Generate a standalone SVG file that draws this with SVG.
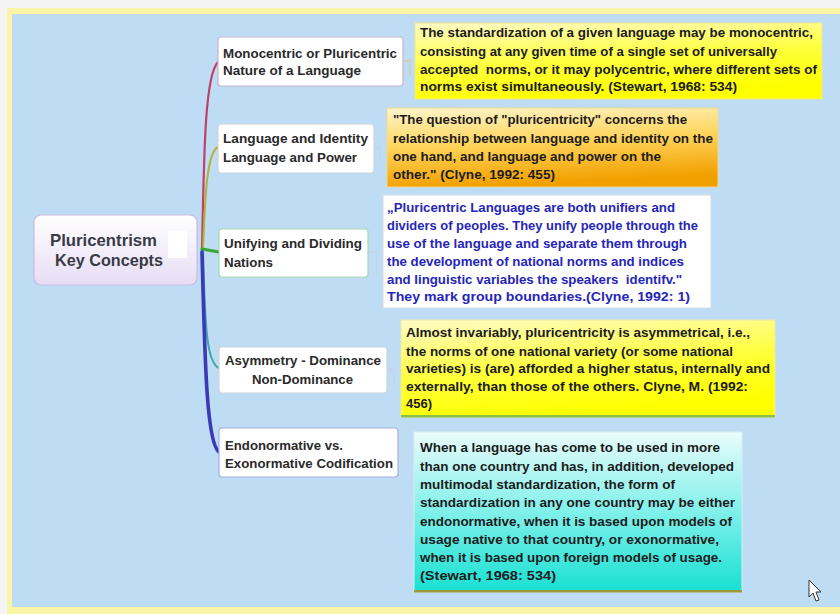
<svg xmlns="http://www.w3.org/2000/svg" width="840" height="614" viewBox="0 0 840 614">
<defs>
<linearGradient id="gCentral" x1="0" y1="0" x2="0" y2="1"><stop offset="0" stop-color="#ffffff"/><stop offset="1" stop-color="#e6dcf4"/></linearGradient>
<linearGradient id="gYellow" x1="0" y1="0" x2="0.3" y2="1"><stop offset="0" stop-color="#fffbc8"/><stop offset="0.55" stop-color="#ffff40"/><stop offset="1" stop-color="#ffff00"/></linearGradient>
<linearGradient id="gOrange" x1="0" y1="0" x2="0.2" y2="1"><stop offset="0" stop-color="#fff6cc"/><stop offset="0.5" stop-color="#ffd45a"/><stop offset="1" stop-color="#f2a000"/></linearGradient>
<linearGradient id="gTeal" x1="0" y1="0" x2="0" y2="1"><stop offset="0" stop-color="#eafcfc"/><stop offset="0.5" stop-color="#80f0ea"/><stop offset="1" stop-color="#18e0d2"/></linearGradient>
</defs>
<style>
.t{font-family:"Liberation Sans",Arial,sans-serif;font-weight:bold;font-size:12.5px;fill:#1c1c1c}
.b{fill:#2a2a2a;font-size:12.5px}
.blue{fill:#2626b8}
.c{font-family:"Liberation Sans",Arial,sans-serif;font-weight:bold;font-size:17px;fill:#3a3a46}
.node{fill:#ffffff;stroke-width:1.2}
.conn{fill:none;stroke-linecap:round}
.nc{fill:none;stroke-width:1;opacity:0.8}
</style>
<rect x="0" y="0" width="840" height="614" fill="#f4f4f4"/>
<rect x="7" y="8" width="833" height="606" fill="#f9f4a6"/>
<rect x="12" y="14" width="828" height="593" fill="#bedcf4"/>

<g id="connectors">
<path class="conn" d="M202 250 C204 150 205 75 218 62" stroke="#c0406a" stroke-width="2.2"/>
<path class="conn" d="M203 250 C205 195 207 152 218 147" stroke="#b4b038" stroke-width="2"/>
<path class="conn" d="M202 249 L219 252" stroke="#38a838" stroke-width="3"/>
<path class="conn" d="M203 252 C205 330 207 363 219 368" stroke="#40a8a8" stroke-width="2"/>
<path class="conn" d="M202 252 C205 370 207 443 219 452" stroke="#3a3ab8" stroke-width="3.6"/>
<path class="nc" d="M403 61 L410 61 M410 58 L410 76" stroke="#e2c27a"/>
<path class="nc" d="M374 148 L380 148 M380 145 L380 162" stroke="#c8d0dc"/>
<path class="nc" d="M368 252 L377 252 M377 250 L377 276" stroke="#c8d0dc"/>
<path class="nc" d="M387 369 L394 369 M394 366 L394 386" stroke="#c8d0dc"/>
</g>

<g id="central">
<rect x="34" y="215" width="163" height="70" rx="7" fill="url(#gCentral)" stroke="#cbb9e2" stroke-width="1.2"/>
<rect x="168" y="231" width="19" height="27" fill="#ffffff"/>
<text class="c" x="50" y="246" textLength="107" lengthAdjust="spacingAndGlyphs">Pluricentrism</text>
<text class="c" x="55" y="266" textLength="108" lengthAdjust="spacingAndGlyphs">Key Concepts</text>
</g>

<g id="b1">
<rect class="node" x="218" y="37" width="185" height="49" rx="3" stroke="#c9b3cf"/>
<text class="t b" x="223" y="58" textLength="174" lengthAdjust="spacingAndGlyphs">Monocentric or Pluricentric</text>
<text class="t b" x="223" y="75" textLength="138" lengthAdjust="spacingAndGlyphs">Nature of a Language</text>
</g>
<g id="b2">
<rect class="node" x="218" y="124" width="156" height="49" rx="3" stroke="#d0d4d8"/>
<text class="t b" x="223" y="143" textLength="145" lengthAdjust="spacingAndGlyphs">Language and Identity</text>
<text class="t b" x="223" y="162" textLength="134" lengthAdjust="spacingAndGlyphs">Language and Power</text>
</g>
<g id="b3">
<rect class="node" x="219" y="229" width="149" height="48" rx="3" stroke="#a8d8b0"/>
<text class="t b" x="224" y="248" textLength="138" lengthAdjust="spacingAndGlyphs">Unifying and Dividing</text>
<text class="t b" x="224" y="267" textLength="49" lengthAdjust="spacingAndGlyphs">Nations</text>
</g>
<g id="b4">
<rect class="node" x="219" y="347" width="168" height="46" rx="3" stroke="#d0d4d8"/>
<text class="t b" x="225" y="365" textLength="156" lengthAdjust="spacingAndGlyphs">Asymmetry - Dominance</text>
<text class="t b" x="252" y="384" textLength="101" lengthAdjust="spacingAndGlyphs">Non-Dominance</text>
</g>
<g id="b5">
<rect class="node" x="219" y="428" width="179" height="49" rx="3" stroke="#a8b0d8"/>
<text class="t b" x="225" y="450" textLength="118" lengthAdjust="spacingAndGlyphs">Endonormative vs.</text>
<text class="t b" x="225" y="468" textLength="168" lengthAdjust="spacingAndGlyphs">Exonormative Codification</text>
</g>

<g id="note1">
<rect x="415" y="23" width="407" height="76" fill="url(#gYellow)" stroke="#ece890" stroke-width="1"/>
<text class="t" x="420" y="37" textLength="393" lengthAdjust="spacingAndGlyphs">The standardization of a given language may be monocentric,</text>
<text class="t" x="420" y="56" textLength="357" lengthAdjust="spacingAndGlyphs">consisting at any given time of a single set of universally</text>
<text class="t" x="420" y="74" textLength="397" lengthAdjust="spacingAndGlyphs" xml:space="preserve">accepted  norms, or it may polycentric, where different sets of</text>
<text class="t" x="420" y="91" textLength="317" lengthAdjust="spacingAndGlyphs">norms exist simultaneously. (Stewart, 1968: 534)</text>
</g>
<g id="note2">
<rect x="387" y="108" width="331" height="79" fill="url(#gOrange)" stroke="#f0d890" stroke-width="1"/>
<text class="t" x="393" y="124" textLength="294" lengthAdjust="spacingAndGlyphs">"The question of "pluricentricity" concerns the</text>
<text class="t" x="393" y="143" textLength="320" lengthAdjust="spacingAndGlyphs">relationship between language and identity on the</text>
<text class="t" x="393" y="161" textLength="268" lengthAdjust="spacingAndGlyphs">one hand, and language and power on the</text>
<text class="t" x="393" y="179" textLength="162" lengthAdjust="spacingAndGlyphs">other." (Clyne, 1992: 455)</text>
</g>
<g id="note3">
<rect x="383" y="195" width="328" height="113" fill="#ffffff" stroke="#d4dbe8" stroke-width="1"/>
<text class="t blue" x="387" y="212" textLength="288" lengthAdjust="spacingAndGlyphs">„Pluricentric Languages are both unifiers and</text>
<text class="t blue" x="387" y="230" textLength="311" lengthAdjust="spacingAndGlyphs">dividers of peoples. They unify people through the</text>
<text class="t blue" x="387" y="248" textLength="300" lengthAdjust="spacingAndGlyphs">use of the language and separate them through</text>
<text class="t blue" x="387" y="266" textLength="297" lengthAdjust="spacingAndGlyphs">the development of national norms and indices</text>
<text class="t blue" x="387" y="284" textLength="295" lengthAdjust="spacingAndGlyphs" xml:space="preserve">and linguistic variables the speakers  identifv."</text>
<text class="t blue" x="387" y="301" textLength="303" lengthAdjust="spacingAndGlyphs">They mark group boundaries.(Clyne, 1992: 1)</text>
</g>
<g id="note4">
<rect x="401" y="320" width="374" height="97" fill="url(#gYellow)" stroke="#eeeaa0" stroke-width="1"/>
<rect x="401" y="415" width="374" height="2.5" fill="#8cc048"/>
<text class="t" x="406" y="337" textLength="344" lengthAdjust="spacingAndGlyphs">Almost invariably, pluricentricity is asymmetrical, i.e.,</text>
<text class="t" x="406" y="356" textLength="327" lengthAdjust="spacingAndGlyphs">the norms of one national variety (or some national</text>
<text class="t" x="406" y="373" textLength="364" lengthAdjust="spacingAndGlyphs">varieties) is (are) afforded a higher status, internally and</text>
<text class="t" x="406" y="391" textLength="342" lengthAdjust="spacingAndGlyphs">externally, than those of the others. Clyne, M. (1992:</text>
<text class="t" x="406" y="408" textLength="26" lengthAdjust="spacingAndGlyphs">456)</text>
</g>
<g id="note5">
<rect x="414" y="432" width="328" height="160" fill="url(#gTeal)" stroke="#d8eef0" stroke-width="1"/>
<rect x="414" y="590" width="328" height="2.5" fill="#9a9a3c"/>
<text class="t" x="420" y="452" textLength="300" lengthAdjust="spacingAndGlyphs">When a language has come to be used in more</text>
<text class="t" x="420" y="471" textLength="314" lengthAdjust="spacingAndGlyphs">than one country and has, in addition, developed</text>
<text class="t" x="420" y="489" textLength="255" lengthAdjust="spacingAndGlyphs">multimodal standardization, the form of</text>
<text class="t" x="420" y="507" textLength="315" lengthAdjust="spacingAndGlyphs">standardization in any one country may be either</text>
<text class="t" x="420" y="526" textLength="312" lengthAdjust="spacingAndGlyphs">endonormative, when it is based upon models of</text>
<text class="t" x="420" y="544" textLength="299" lengthAdjust="spacingAndGlyphs">usage native to that country, or exonormative,</text>
<text class="t" x="420" y="562" textLength="302" lengthAdjust="spacingAndGlyphs">when it is based upon foreign models of usage.</text>
<text class="t" x="420" y="580" textLength="136" lengthAdjust="spacingAndGlyphs">(Stewart, 1968: 534)</text>
</g>

<path d="M809 580 L809 597 L813 593 L816 601 L819 600 L816 592 L821 592 Z" fill="#ffffff" stroke="#333333" stroke-width="1"/>
</svg>
